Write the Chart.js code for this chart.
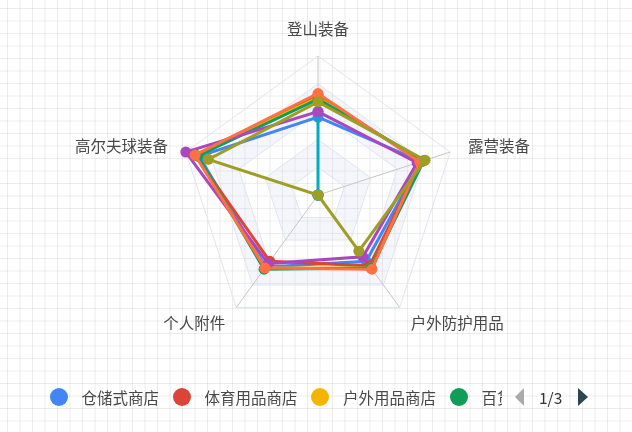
<!DOCTYPE html>
<html>
<head>
<meta charset="utf-8">
<script src="https://cdn.jsdelivr.net/npm/chart.js@4.4.1/dist/chart.umd.min.js"></script>
<style>
html,body{margin:0;padding:0;}
body{width:632px;height:432px;position:relative;overflow:hidden;background-color:#fff;
  background-image:linear-gradient(to right, rgba(0,0,0,0.075) 1px, transparent 1px),
                   linear-gradient(to bottom, rgba(0,0,0,0.075) 1px, transparent 1px);
  background-size:12.5px 12.5px;background-position:7px 8px;}
#c{position:absolute;left:0;top:0;}
#legend{position:absolute;left:49.5px;top:385px;width:452.5px;height:24px;overflow:hidden;white-space:nowrap;
  display:flex;align-items:center;font-family:"Noto Sans CJK SC";font-size:15.5px;line-height:24px;color:#484848;}
.item{display:flex;align-items:center;flex:none;margin-right:13.5px;}
.dot{width:18px;height:18px;border-radius:50%;margin-right:14px;flex:none;}
#prev{position:absolute;left:515px;top:388px;width:0;height:0;border-top:9px solid transparent;border-bottom:9px solid transparent;border-right:9px solid #aaaaaa;}
#next{position:absolute;left:578px;top:388px;width:0;height:0;border-top:9px solid transparent;border-bottom:9px solid transparent;border-left:10px solid #2f4554;}
#page{position:absolute;left:539px;top:385px;height:24px;line-height:24px;font-family:"Noto Sans CJK SC";font-size:15.5px;color:#333;}
</style>
</head>
<body>
<canvas id="c" width="632" height="432"></canvas>
<div id="legend"></div>
<div id="prev"></div>
<div id="page">1/3</div>
<div id="next"></div>
<script>
// ---- data ----
const categories = ['登山装备', '露营装备', '户外防护用品', '个人附件', '高尔夫球装备'];
const seriesNames = ['仓储式商店', '体育用品商店', '户外用品商店', '百货商店', '直销', '眼镜店', '高尔夫商店', '设备租赁商店'];
const seriesColors = ['#4285F4', '#DB4437', '#F4B400', '#0F9D58', '#AB47BC', '#00ACC1', '#FF7043', '#9E9D24'];
const warehouseStore = [56, 78, 59, 64, 90];
const sportsStore = [72, 78, 63, 59, 93];
const outdoorShop = [70, 79, 65, 65, 92];
const departmentStore = [69, 80, 65, 66, 91];
const directMarketing = [60, 75, 55, 61, 100];
const eyewearStore = [60, 0, 0, 0, 0];
const golfShop = [73, 77, 66, 65, 93];
const rentalStore = [67, 81, 50, 0, 83];
const seriesValues = [warehouseStore, sportsStore, outdoorShop, departmentStore, directMarketing, eyewearStore, golfShop, rentalStore];
// drawing layer of each series (higher = drawn later, on top)
const seriesLayer = [1, 2, 3, 4, 6, 5, 7, 8];
const scaleMax = 100;
const ringStep = 20;
const pageLabel = '1/3';

// ---- legend ----
const legend = document.getElementById('legend');
seriesNames.forEach((n, i) => {
  const it = document.createElement('div'); it.className = 'item';
  const d = document.createElement('span'); d.className = 'dot'; d.style.background = seriesColors[i];
  const t = document.createElement('span'); t.textContent = n;
  it.appendChild(d); it.appendChild(t); legend.appendChild(it);
});
document.getElementById('page').textContent = pageLabel;

// ---- plugins ----
const bandPlugin = {
  id: 'bands',
  beforeDraw(chart) {
    const r = chart.scales.r, ctx = chart.ctx, n = categories.length;
    ctx.save();
    for (let v = 0, k = 0; v < scaleMax; v += ringStep, k++) {
      const inner = r.getDistanceFromCenterForValue(v);
      const outer = r.getDistanceFromCenterForValue(v + ringStep);
      ctx.beginPath();
      for (let i = 0; i < n; i++) { const p = r.getPointPosition(i, outer); i ? ctx.lineTo(p.x, p.y) : ctx.moveTo(p.x, p.y); }
      ctx.closePath();
      for (let i = n - 1; i >= 0; i--) { const p = r.getPointPosition(i, inner); i === n - 1 ? ctx.moveTo(p.x, p.y) : ctx.lineTo(p.x, p.y); }
      ctx.closePath();
      ctx.fillStyle = k % 2 ? 'rgba(210,219,238,0.24)' : 'rgba(250,250,250,0.2)';
      ctx.fill('evenodd');
    }
    ctx.restore();
  }
};
const labelPlugin = {
  id: 'axisNames',
  afterDraw(chart) {
    const r = chart.scales.r, ctx = chart.ctx;
    ctx.save();
    ctx.font = '15.5px "Noto Sans CJK SC"';
    ctx.fillStyle = '#484848';
    categories.forEach((lab, i) => {
      const p = r.getPointPosition(i, r.drawingArea + 18.75);
      const c = Math.cos(p.angle), s = Math.sin(p.angle);
      ctx.textAlign = Math.abs(c) < 0.1 ? 'center' : (c > 0 ? 'left' : 'right');
      ctx.textBaseline = 'middle';
      let y = p.y;
      if (Math.abs(c) < 0.1) y = s < 0 ? p.y - 8.5 : p.y + 8.5;
      ctx.fillText(lab, p.x, y);
    });
    ctx.restore();
  }
};

new Chart(document.getElementById('c'), {
  type: 'radar',
  data: {
    labels: categories,
    datasets: seriesValues.map((vals, i) => ({
      label: seriesNames[i],
      data: vals,
      borderColor: seriesColors[i],
      backgroundColor: 'transparent',
      pointBackgroundColor: seriesColors[i],
      pointBorderColor: seriesColors[i],
      pointBorderWidth: 0,
      pointRadius: 5.5,
      pointHoverRadius: 5.5,
      borderWidth: 3,
      fill: false,
      tension: 0,
      order: seriesValues.length + 1 - seriesLayer[i]
    }))
  },
  options: {
    responsive: false,
    animation: false,
    events: [],
    layout: { padding: { left: 179, right: 175, top: 56, bottom: 98 } },
    plugins: { legend: { display: false }, tooltip: { enabled: false } },
    scales: {
      r: {
        min: 0, max: scaleMax,
        ticks: { display: false, stepSize: ringStep },
        grid: { color: '#dfe4ee', lineWidth: 1 },
        angleLines: { color: '#c6c6c6', lineWidth: 1 },
        pointLabels: { display: false }
      }
    }
  },
  plugins: [bandPlugin, labelPlugin]
});
</script>
</body>
</html>
